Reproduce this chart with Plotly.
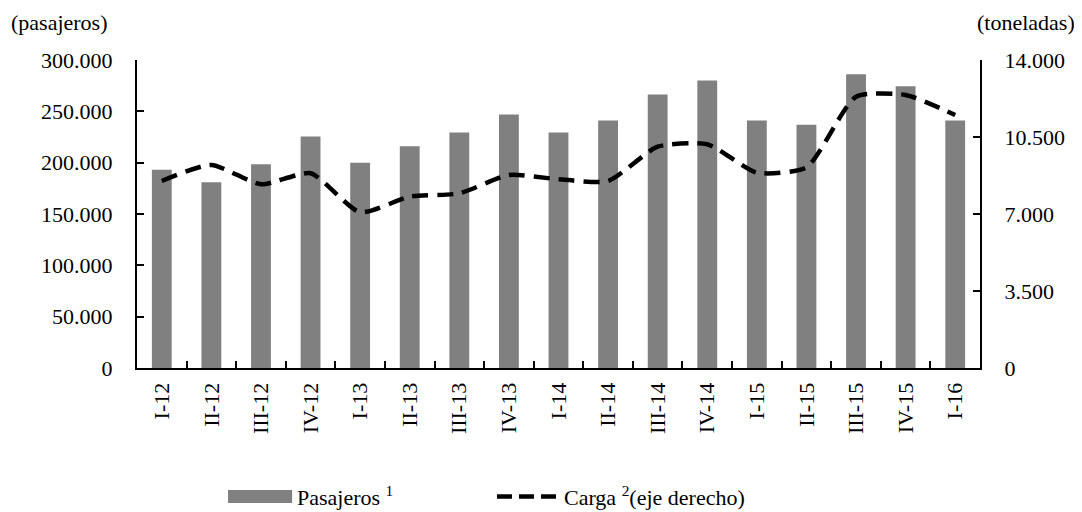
import plotly.graph_objects as go

trimestres = ["I-12", "II-12", "III-12", "IV-12", "I-13", "II-13", "III-13", "IV-13",
              "I-14", "II-14", "III-14", "IV-14", "I-15", "II-15", "III-15", "IV-15", "I-16"]
pasajeros = [193000, 181000, 198500, 225500, 200000, 216000, 229500, 247000,
             229500, 241000, 266500, 280000, 241000, 237000, 286000, 274500, 241000]
carga = [8500, 9230, 8350, 8850, 7080, 7790, 7940, 8770,
         8580, 8500, 10060, 10170, 8880, 9120, 12330, 12410, 11500]

FONT = dict(family="Liberation Serif", size=22, color="#000000")
AX = dict(showline=True, linecolor="black", linewidth=2, ticks="inside", ticklen=7,
          tickcolor="black", tickwidth=2, showgrid=False, zeroline=False, automargin=False)

fig = go.Figure()
fig.add_trace(go.Bar(x=trimestres, y=pasajeros, name="Pasajeros",
                     marker_color="#808080", marker_line_width=0, width=0.4))
fig.add_trace(go.Scatter(x=trimestres, y=carga, name="Carga", yaxis="y2", mode="lines",
                         line=dict(color="#000000", width=4.5, dash="16px,9px",
                                   shape="spline", smoothing=0.6)))

# la pagina tiene 8px de margen en el body: la figura se achica para caber en la ventana
fig.update_layout(
    width=1074, height=504,
    margin=dict(l=129, r=102, t=52, b=144, autoexpand=False),
    paper_bgcolor="white", plot_bgcolor="white",
    font=FONT, separators=",.", showlegend=False,
    xaxis=dict(type="category", tickangle=-90, tickson="boundaries",
               ticklabelstandoff=4, **AX),
    yaxis=dict(range=[0, 300000], dtick=50000, tickformat=",d",
               ticklabelstandoff=18, **AX),
    yaxis2=dict(range=[0, 14000], dtick=3500, tickformat=",d", overlaying="y",
                side="right", ticklabelstandoff=18, **AX),
)

# titulos de los ejes
fig.add_annotation(text="(pasajeros)", xref="paper", yref="paper", x=-0.152, y=1.123,
                   xanchor="left", yanchor="middle", showarrow=False, font=FONT)
fig.add_annotation(text="(toneladas)", xref="paper", yref="paper", x=1.115, y=1.123,
                   xanchor="right", yanchor="middle", showarrow=False, font=FONT)

# leyenda dibujada a mano (simbolos anchos como en el original)
fig.add_shape(type="rect", xref="paper", yref="paper", x0=0.108, x1=0.184,
              y0=-0.438, y1=-0.396, fillcolor="#808080", line_width=0)
fig.add_annotation(text="Pasajeros <sup>1</sup>", xref="paper", yref="paper",
                   x=0.188, y=-0.415, xanchor="left", yanchor="middle",
                   showarrow=False, font=FONT)
fig.add_shape(type="line", xref="paper", yref="paper", x0=0.427, x1=0.497,
              y0=-0.417, y1=-0.417, line=dict(color="black", width=4.5, dash="15px,7px"))
fig.add_annotation(text="Carga <sup>2</sup>(eje derecho)", xref="paper", yref="paper",
                   x=0.504, y=-0.415, xanchor="left", yanchor="middle",
                   showarrow=False, font=FONT)

fig.write_html("out.html")
